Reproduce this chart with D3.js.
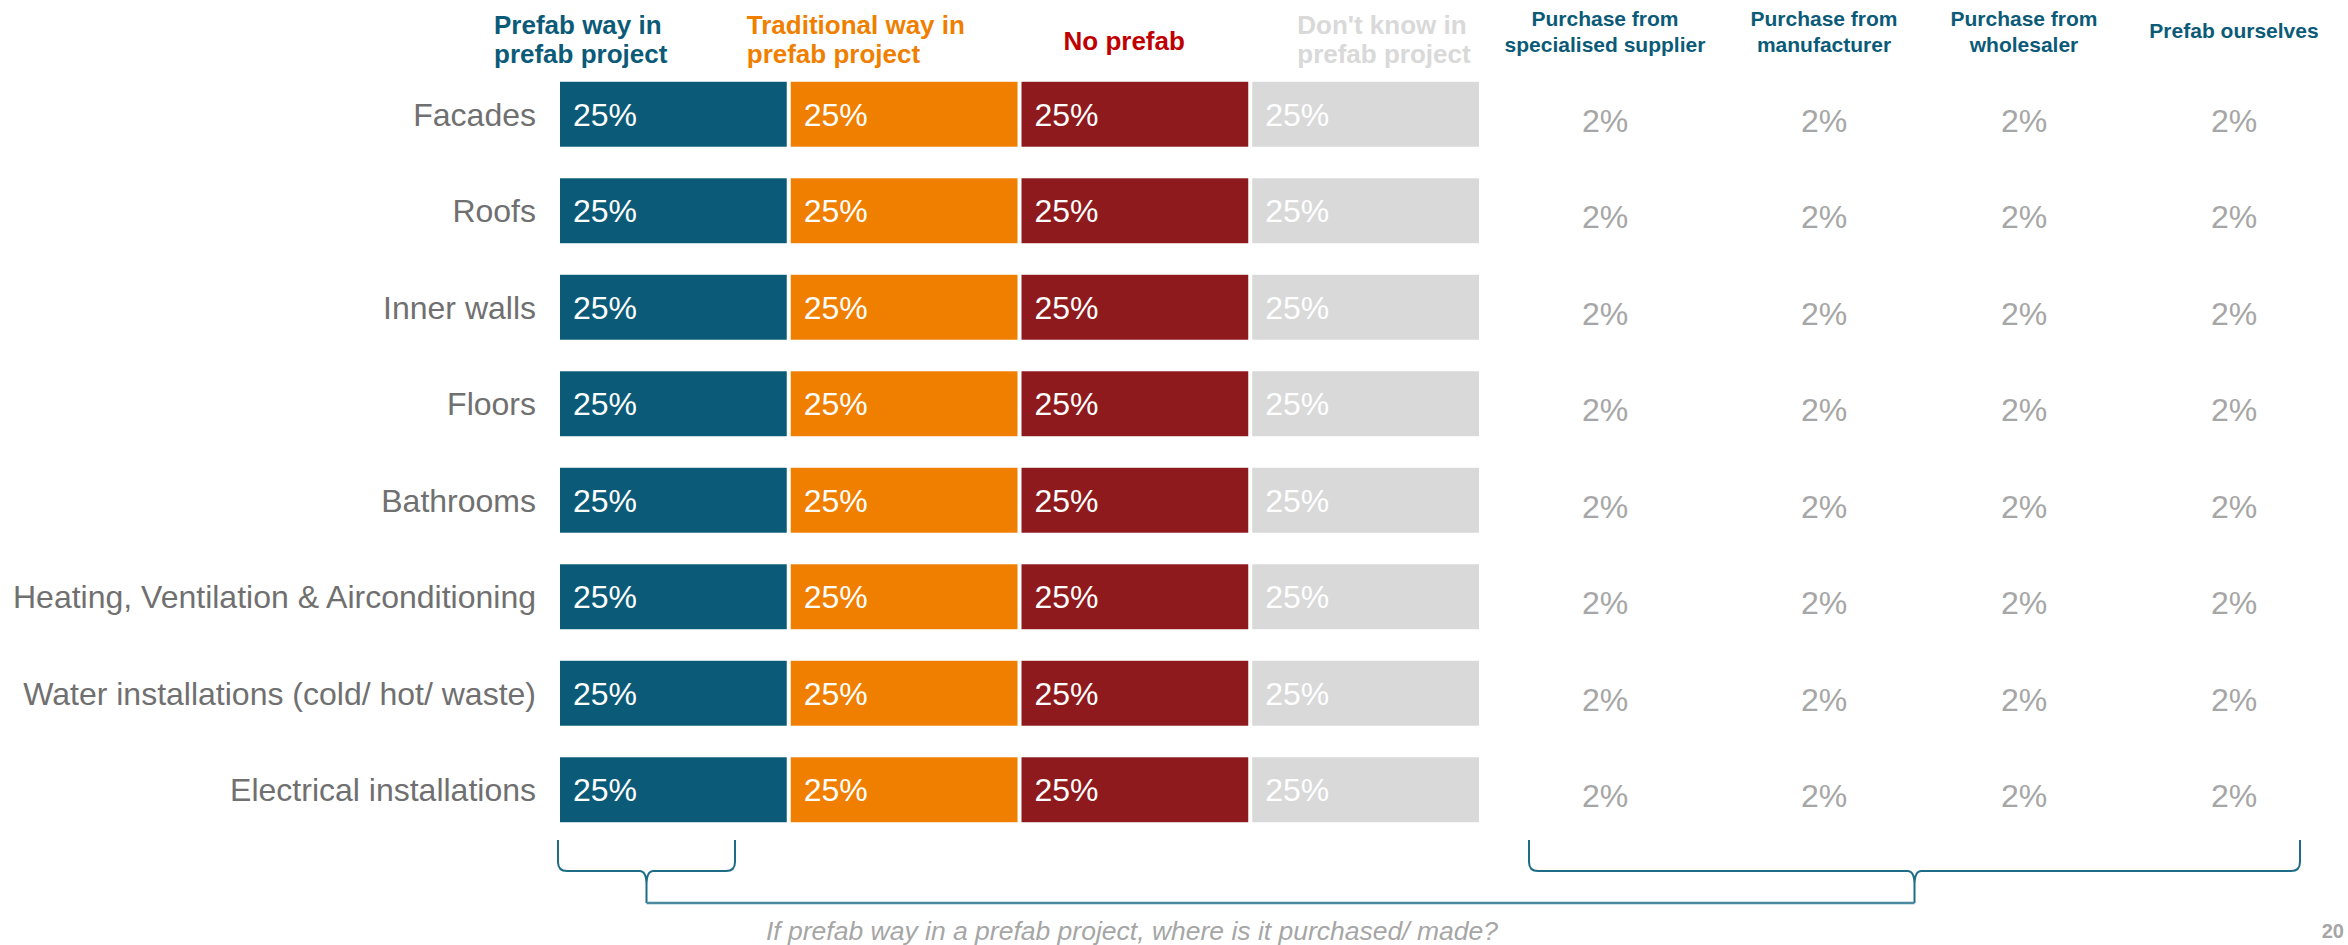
<!DOCTYPE html>
<html>
<head>
<meta charset="utf-8">
<script src="https://cdn.jsdelivr.net/npm/d3@7"></script>
<style>
  html, body { margin: 0; padding: 0; background: #ffffff; }
  svg { display: block; font-family: "Liberation Sans", Arial, Helvetica, sans-serif; }
</style>
</head>
<body>
<svg id="chart" width="2348" height="945"></svg>
<script>
// Building elements asked about
const categories = [
  "Facades",
  "Roofs",
  "Inner walls",
  "Floors",
  "Bathrooms",
  "Heating, Ventilation & Airconditioning",
  "Water installations (cold/ hot/ waste)",
  "Electrical installations"
];

// Stacked shares (percent) per building element
const prefabWay      = [25, 25, 25, 25, 25, 25, 25, 25];
const traditionalWay = [25, 25, 25, 25, 25, 25, 25, 25];
const noPrefab       = [25, 25, 25, 25, 25, 25, 25, 25];
const dontKnow       = [25, 25, 25, 25, 25, 25, 25, 25];

const stackSeries = [
  { key: "prefabWay",      lines: ["Prefab way in", "prefab project"],       values: prefabWay },
  { key: "traditionalWay", lines: ["Traditional way in", "prefab project"],  values: traditionalWay },
  { key: "noPrefab",       lines: ["No prefab"],                             values: noPrefab },
  { key: "dontKnow",       lines: ["Don't know in", "prefab project"],       values: dontKnow }
];

// Where prefab parts are purchased / made (percent)
const specialisedSupplier = [2, 2, 2, 2, 2, 2, 2, 2];
const manufacturer        = [2, 2, 2, 2, 2, 2, 2, 2];
const wholesaler          = [2, 2, 2, 2, 2, 2, 2, 2];
const prefabOurselves     = [2, 2, 2, 2, 2, 2, 2, 2];

const purchaseSeries = [
  { key: "specialised",  lines: ["Purchase from", "specialised supplier"], values: specialisedSupplier },
  { key: "manufacturer", lines: ["Purchase from", "manufacturer"],         values: manufacturer },
  { key: "wholesaler",   lines: ["Purchase from", "wholesaler"],           values: wholesaler },
  { key: "ourselves",    lines: ["Prefab ourselves"],                      values: prefabOurselves }
];

const footnote = "If prefab way in a prefab project, where is it purchased/ made?";
const pageNumber = "20";

// ---- styling ----
const colors = {
  prefabWay: "#0b5b78",
  traditionalWay: "#f07f00",
  noPrefab: "#8f1a1d",
  dontKnow: "#d9d9d9"
};
const headerColors = {
  prefabWay: "#0b5b78",
  traditionalWay: "#f07f00",
  noPrefab: "#c00000",
  dontKnow: "#d9d9d9"
};
// Horizontal placement of the stacked headers relative to each segment start
const headerShift = { prefabWay: -66, traditionalWay: -44, noPrefab: 42, dontKnow: 45 };

const labelGray = "#707070";
const valueGray = "#a6a6a6";
const braceColor = "#1f6c87";
const segGap = 4;

const svg = d3.select("#chart");

// ---- scales ----
const y = d3.scaleBand()
  .domain(categories)
  .range([66, 838])
  .paddingInner(0.327)
  .paddingOuter(0.1635);

const x = d3.scaleLinear().domain([0, 100]).range([560, 1483]);

const colX = d3.scaleOrdinal()
  .domain(purchaseSeries.map(d => d.key))
  .range([1605, 1824, 2024, 2234]);

// ---- stacked bars ----
const stackRows = categories.map((c, i) => {
  const row = { category: c };
  stackSeries.forEach(s => { row[s.key] = s.values[i]; });
  return row;
});
const stacked = d3.stack().keys(stackSeries.map(s => s.key))(stackRows);

const layers = svg.append("g").selectAll("g")
  .data(stacked)
  .join("g")
  .attr("fill", d => colors[d.key]);

layers.selectAll("rect")
  .data(d => d.map(p => ({ key: d.key, p })))
  .join("rect")
  .attr("x", d => x(d.p[0]))
  .attr("y", d => y(d.p.data.category))
  .attr("width", d => Math.max(0, x(d.p[1]) - x(d.p[0]) - segGap))
  .attr("height", y.bandwidth());

layers.selectAll("text")
  .data(d => d.map(p => ({ key: d.key, p })))
  .join("text")
  .attr("x", d => x(d.p[0]) + 13)
  .attr("y", d => y(d.p.data.category) + y.bandwidth() / 2)
  .attr("dy", "0.36em")
  .attr("fill", "#ffffff")
  .attr("font-size", 32)
  .text(d => `${d.p[1] - d.p[0]}%`);

// ---- category labels ----
svg.append("g").selectAll("text")
  .data(categories)
  .join("text")
  .attr("x", 536)
  .attr("y", d => y(d) + y.bandwidth() / 2)
  .attr("dy", "0.36em")
  .attr("text-anchor", "end")
  .attr("fill", labelGray)
  .attr("font-size", 32)
  .text(d => d);

// ---- stacked headers ----
const stackHeaders = svg.append("g").selectAll("text")
  .data(stacked)
  .join("text")
  .attr("x", d => x(d[0][0]) + headerShift[d.key])
  .attr("fill", d => headerColors[d.key])
  .attr("font-size", 26)
  .attr("font-weight", "bold");

stackHeaders.each(function (d) {
  const s = stackSeries.find(v => v.key === d.key);
  const base = s.lines.length === 1 ? 50 : 34;
  d3.select(this).selectAll("tspan")
    .data(s.lines)
    .join("tspan")
    .attr("x", x(d[0][0]) + headerShift[d.key])
    .attr("y", (t, i) => base + i * 29)
    .text(t => t);
});

// ---- purchase columns ----
const purchaseHeaders = svg.append("g").selectAll("text")
  .data(purchaseSeries)
  .join("text")
  .attr("text-anchor", "middle")
  .attr("fill", "#0b5b78")
  .attr("font-size", 21)
  .attr("font-weight", "bold");

purchaseHeaders.each(function (s) {
  const base = s.lines.length === 1 ? 38 : 26;
  d3.select(this).selectAll("tspan")
    .data(s.lines)
    .join("tspan")
    .attr("x", colX(s.key))
    .attr("y", (t, i) => base + i * 25.5)
    .text(t => t);
});

svg.append("g").selectAll("g")
  .data(purchaseSeries)
  .join("g")
  .selectAll("text")
  .data(s => s.values.map((v, i) => ({ key: s.key, v, c: categories[i] })))
  .join("text")
  .attr("x", d => colX(d.key))
  .attr("y", d => y(d.c) + y.bandwidth() / 2 + 6)
  .attr("dy", "0.36em")
  .attr("text-anchor", "middle")
  .attr("fill", valueGray)
  .attr("font-size", 32)
  .text(d => `${d.v}%`);

// ---- braces linking the prefab segment to the purchase columns ----
function brace(x0, x1, top, h, tipY) {
  const xc = (x0 + x1) / 2;
  const r = 9;
  return [
    `M${x0},${top}`,
    `L${x0},${h - r}`,
    `Q${x0},${h} ${x0 + r},${h}`,
    `L${xc - 7},${h}`,
    `Q${xc},${h} ${xc},${h + 14}`,
    `L${xc},${tipY}`,
    `M${xc},${h + 14}`,
    `Q${xc},${h} ${xc + 7},${h}`,
    `L${x1 - r},${h}`,
    `Q${x1},${h} ${x1},${h - r}`,
    `L${x1},${top}`
  ].join(" ");
}

const braceTop = 840, braceH = 871, linkY = 903;
const leftB = [x(0) - 2, x(0) + 175];
const rightB = [colX("specialised") - 76, colX("ourselves") + 66];

const braces = svg.append("g")
  .attr("fill", "none")
  .attr("stroke", braceColor)
  .attr("stroke-width", 2);

braces.append("path").attr("d", brace(leftB[0], leftB[1], braceTop, braceH, linkY));
braces.append("path").attr("d", brace(rightB[0], rightB[1], braceTop, braceH, linkY));
braces.append("path")
  .attr("stroke", "#4a8aa1")
  .attr("stroke-width", 2.5)
  .attr("d", `M${(leftB[0] + leftB[1]) / 2},${linkY} L${(rightB[0] + rightB[1]) / 2},${linkY}`);

// ---- footnote & page number ----
svg.append("text")
  .attr("x", (767 + 1497) / 2)
  .attr("y", 940)
  .attr("text-anchor", "middle")
  .attr("font-style", "italic")
  .attr("fill", valueGray)
  .attr("font-size", 26.5)
  .text(footnote);

svg.append("text")
  .attr("x", 2344)
  .attr("y", 938)
  .attr("text-anchor", "end")
  .attr("fill", "#a6a6a6")
  .attr("font-weight", "bold")
  .attr("font-size", 20)
  .text(pageNumber);
</script>
</body>
</html>
